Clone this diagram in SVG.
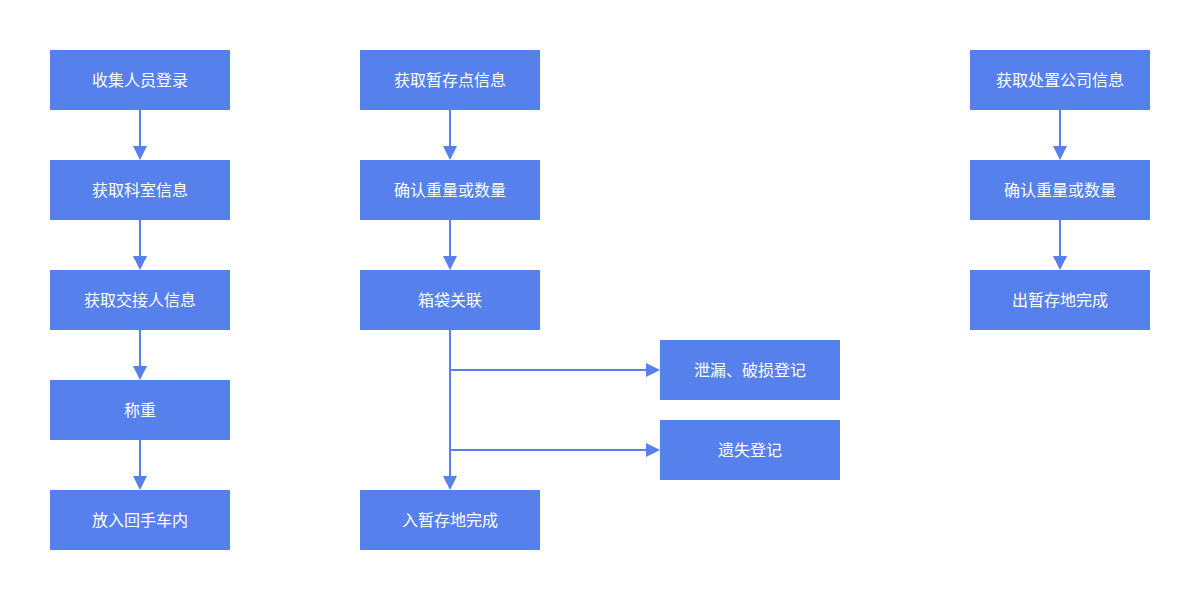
<svg xmlns="http://www.w3.org/2000/svg" width="1200" height="600" viewBox="0 0 1200 600">
<style>
.b{fill:#5680EC}
.t{fill:#fff;font-family:"Noto Sans CJK SC","Noto Sans",sans-serif;font-size:16px;text-anchor:middle;dominant-baseline:central}
.c{stroke:#5680EC;stroke-width:2;fill:none}
.h{fill:#5680EC}
</style>
<rect width="1200" height="600" fill="#fff"/>
<g id="n1"><rect class="b" x="50" y="50" width="180" height="60"/><text class="t" x="140" y="78.5">收集人员登录</text></g>
<g id="n2"><rect class="b" x="50" y="160" width="180" height="60"/><text class="t" x="140" y="188.5">获取科室信息</text></g>
<g id="n3"><rect class="b" x="50" y="270" width="180" height="60"/><text class="t" x="140" y="298.5">获取交接人信息</text></g>
<g id="n4"><rect class="b" x="50" y="380" width="180" height="60"/><text class="t" x="140" y="408.5">称重</text></g>
<g id="n5"><rect class="b" x="50" y="490" width="180" height="60"/><text class="t" x="140" y="518.5">放入回手车内</text></g>
<g id="m1"><rect class="b" x="360" y="50" width="180" height="60"/><text class="t" x="450" y="78.5">获取暂存点信息</text></g>
<g id="m2"><rect class="b" x="360" y="160" width="180" height="60"/><text class="t" x="450" y="188.5">确认重量或数量</text></g>
<g id="m3"><rect class="b" x="360" y="270" width="180" height="60"/><text class="t" x="450" y="298.5">箱袋关联</text></g>
<g id="m4"><rect class="b" x="360" y="490" width="180" height="60"/><text class="t" x="450" y="518.5">入暂存地完成</text></g>
<g id="s1"><rect class="b" x="660" y="340" width="180" height="60"/><text class="t" x="750" y="368.5">泄漏、破损登记</text></g>
<g id="s2"><rect class="b" x="660" y="420" width="180" height="60"/><text class="t" x="750" y="448.5">遗失登记</text></g>
<g id="r1"><rect class="b" x="970" y="50" width="180" height="60"/><text class="t" x="1060" y="78.5">获取处置公司信息</text></g>
<g id="r2"><rect class="b" x="970" y="160" width="180" height="60"/><text class="t" x="1060" y="188.5">确认重量或数量</text></g>
<g id="r3"><rect class="b" x="970" y="270" width="180" height="60"/><text class="t" x="1060" y="298.5">出暂存地完成</text></g>
<g id="connectors">
<path class="c" d="M140 110V147M140 220V257M140 330V367M140 440V477"/>
<path class="h" d="M133 146H147L140 160ZM133 256H147L140 270ZM133 366H147L140 380ZM133 476H147L140 490Z"/>
<path class="c" d="M450 110V147M450 220V257M450 330V477M450 370H647M450 450H647"/>
<path class="h" d="M443 146H457L450 160ZM443 256H457L450 270ZM443 476H457L450 490ZM646 363V377L660 370ZM646 443V457L660 450Z"/>
<path class="c" d="M1060 110V147M1060 220V257"/>
<path class="h" d="M1053 146H1067L1060 160ZM1053 256H1067L1060 270Z"/>
</g>
</svg>
